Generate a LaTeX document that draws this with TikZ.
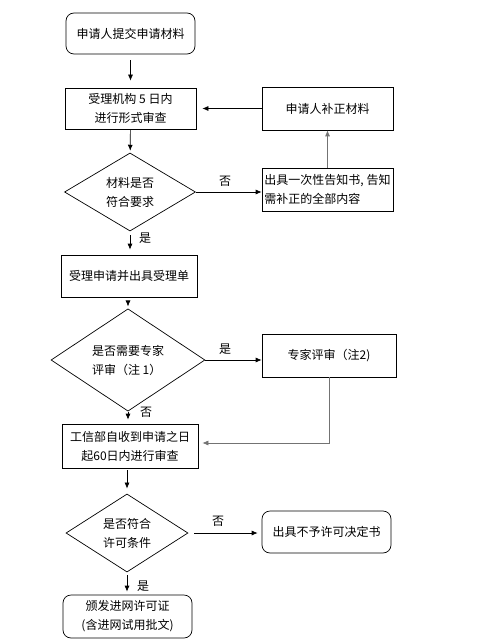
\documentclass[tikz,border=0pt]{standalone}
\usepackage{fontspec}
\setmainfont{Noto Sans CJK SC}
\usetikzlibrary{shapes.geometric,arrows.meta}

\begin{document}
\begin{tikzpicture}[x=1pt, y=-1pt, >={Latex[length=6pt,width=5pt]}, line width=0.7pt,
    every node/.style={font=\fontsize{12}{19}\selectfont},
    box/.style={draw, rectangle, align=center, inner sep=1pt},
    roundbox/.style={draw, rectangle, rounded corners=8pt, align=center, inner sep=1pt},
    decision/.style={draw, diamond, align=center, inner sep=0pt},
    back/.style={draw=black!55}]
    \useasboundingbox (0,0) rectangle (500,644);
    \node[roundbox, minimum width=129pt, minimum height=41pt] (submit) at (130.5, 33.5) {申请人提交申请材料};
    \node[box, minimum width=131pt, minimum height=41pt] (formal check) at (130.5, 108.5) {受理机构 5 日内 \\ 进行形式审查};
    \draw[->, shorten <=6pt, shorten >=7pt] (submit) -- (formal check);
    \node[decision, minimum width=131pt, minimum height=70pt] (material ok) at (130, 192) {材料是否 \\ 符合要求};
    \draw[->, shorten >=2pt] (formal check) -- (material ok);
    \node[box, align=left, minimum width=131pt, minimum height=43pt] (notify) at (327.5, 189.5) {出具一次性告知书, 告知 \\ 需补正的全部内容};
    \node[box, minimum width=131pt, minimum height=43pt] (supplement) at (327.5, 108.5) {申请人补正材料};
    \draw[->] (material ok.east) -- (material ok.east -| notify.west);
    \node (no material) at (225, 181) {否};
    \draw[->, back] (notify) -- (supplement);
    \draw[->, shorten >=6pt] (supplement) -- (formal check);
    \node[box, minimum width=136pt, minimum height=42pt] (accept) at (129, 276) {受理申请并出具受理单};
    \draw[->, shorten <=4pt, shorten >=5pt] (material ok.south) -- (material ok.south |- accept.north);
    \node (yes material) at (145, 238) {是};
    \node[decision, align=left, minimum width=154pt, minimum height=72pt] (need expert) at (128, 360) {是否需要专家 \\ 评审（注 1）};
    \draw[->, shorten <=5pt, shorten >=2pt] (accept.south -| need expert.north) -- (need expert.north);
    \node[box, minimum width=134pt, minimum height=43pt] (expert review) at (329, 355.5) {专家评审（注2)};
    \draw[->] (need expert.east) -- (need expert.east -| expert review.west);
    \node (yes expert) at (225, 349) {是};
    \node[box, minimum width=136pt, minimum height=44pt] (ministry review) at (130, 446) {工信部自收到申请之日 \\ 起60日内进行审查};
    \draw[->, shorten >=4pt] (need expert.south) -- (need expert.south |- ministry review.north);
    \node (no expert) at (146, 412) {否};
    \draw[->, back, shorten >=4pt] (expert review.south) |- ([yshift=3pt] ministry review.east);
    \node[decision, minimum width=122pt, minimum height=71pt] (permit ok) at (127, 533) {是否符合 \\ 许可条件};
    \draw[->, shorten <=2pt, shorten >=5pt] (ministry review.south -| permit ok.north) -- (permit ok.north);
    \node[roundbox, minimum width=129pt, minimum height=42pt] (refuse) at (326.5, 532) {出具不予许可决定书};
    \draw[->, shorten <=6pt, shorten >=4pt] (permit ok.east) -- (permit ok.east -| refuse.west);
    \node (no permit) at (218, 521) {否};
    \node[roundbox, minimum width=129pt, minimum height=43pt] (license) at (127.5, 616.5) {颁发进网许可证 \\ (含进网试用批文)};
    \draw[->, shorten <=3pt, shorten >=3pt] (permit ok.south) -- (permit ok.south |- license.north);
    \node (yes permit) at (143, 586) {是};
\end{tikzpicture}
\end{document}
